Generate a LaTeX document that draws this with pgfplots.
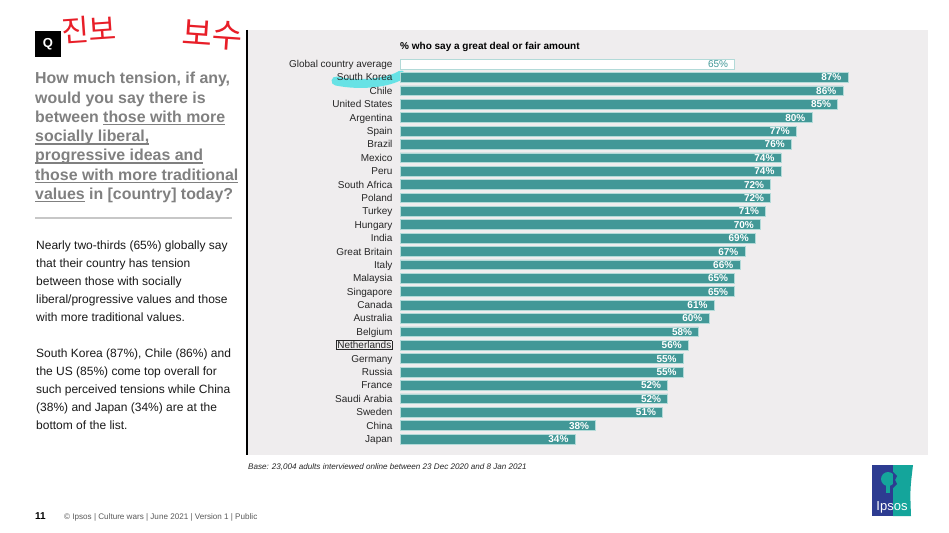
\documentclass[border=0pt]{standalone}
\usepackage{fontspec}
\setmainfont{Liberation Sans}
\newfontfamily\kr{Noto Sans CJK KR}
\usepackage{pgfplots}
\pgfplotsset{compat=1.18}
\definecolor{barteal}{RGB}{66,152,151}
\definecolor{baredge}{RGB}{178,218,216}
\definecolor{panel}{RGB}{239,237,238}
\definecolor{qgray}{RGB}{128,128,128}
\definecolor{hl}{RGB}{80,225,228}
\definecolor{hred}{RGB}{232,30,40}
\definecolor{ipsblue}{RGB}{45,60,145}
\definecolor{ipsteal}{RGB}{20,165,155}
\newcommand{\ul}[1]{\setbox0\hbox{#1}\rlap{\textcolor{qgray}{\rule[-3pt]{\wd0}{1.4pt}}}\box0\relax}
\begin{document}
\begin{tikzpicture}
\begin{scope}[x=1pt,y=-1pt]
\path[use as bounding box, fill=white] (0,0) rectangle (949,532);
\fill[panel] (248,30) rectangle (928,455);
\draw[line width=2.2pt] (247,30) -- (247,455);
% Q box
\fill[black] (35,31) rectangle (61,57);
\node[text=white, font=\bfseries\fontsize{13}{13}\selectfont, inner sep=0pt] at (48,44.5) {Q};
% handwriting
\node[anchor=base west, inner sep=0pt, font=\kr\fontsize{30}{30}\selectfont, text=hred, rotate=4] at (62,43) {진보};
\node[anchor=base west, inner sep=0pt, font=\kr\fontsize{33}{33}\selectfont, text=hred, rotate=-4] at (181,44) {보수};
% question
\begin{scope}[every node/.style={anchor=base west, inner sep=0pt, text=qgray, font=\bfseries\fontsize{15.9}{19}\selectfont}]
\node at (35,84) {How much tension, if any,};
\node at (35,103.2) {would you say there is};
\node at (35,122.4) {between \ul{those with more}};
\node at (35,141.6) {\ul{socially liberal,}};
\node at (35,160.8) {\ul{progressive ideas and}};
\node at (35,180) {\ul{those with more traditional}};
\node at (35,199.2) {\ul{values} in [country] today?};
\end{scope}
\draw[black!22, line width=1.6pt] (35,218) -- (232,218);
% body
\begin{scope}[every node/.style={anchor=base west, inner sep=0pt, text=black!90, font=\fontsize{12}{18}\selectfont}]
\node at (36,249) {Nearly two-thirds (65\%) globally say};
\node at (36,267) {that their country has tension};
\node at (36,285) {between those with socially};
\node at (36,303) {liberal/progressive values and those};
\node at (36,321) {with more traditional values.};
\node at (36,357) {South Korea (87\%), Chile (86\%) and};
\node at (36,375) {the US (85\%) come top overall for};
\node at (36,393) {such perceived tensions while China};
\node at (36,411) {(38\%) and Japan (34\%) are at the};
\node at (36,429) {bottom of the list.};
\end{scope}
% chart title
\node[anchor=base west, inner sep=0pt, font=\bfseries\fontsize{10}{11}\selectfont] at (400,50) {\% who say a great deal or fair amount};
% highlight
\draw[hl, line width=9pt, line cap=round, opacity=0.85] (336,81) .. controls (360,86) and (388,83) .. (401,75);
% base
\node[anchor=base west, inner sep=0pt, font=\itshape\fontsize{8.1}{9}\selectfont, text=black!85] at (248,469) {Base: 23,004 adults interviewed online between 23 Dec 2020 and 8 Jan 2021};
% footer
\node[anchor=base west, inner sep=0pt, font=\bfseries\fontsize{10}{10}\selectfont] at (35,519) {11};
\node[anchor=base west, inner sep=0pt, font=\fontsize{8.1}{9}\selectfont, text=black!65] at (64,519) {© Ipsos | Culture wars | June 2021 | Version 1 | Public};
% logo
\fill[ipsblue] (872,465) rectangle (893,516);
\fill[ipsteal] (893,465) -- (913,465) .. controls (910,490) .. (911,516) -- (893,516) -- cycle;
\fill[ipsteal] (888,479) circle (7);
\fill[ipsteal] (886,484) rectangle (890,493);
\fill[ipsblue] (893,472) -- (897,476) -- (895,480) -- (897,484) -- (893,488) -- cycle;
\node[anchor=base, inner sep=0pt, text=white, font=\fontsize{13}{13}\selectfont] at (892,510) {Ipsos};
\end{scope}
\begin{axis}[at={(400pt,-57.3pt)}, anchor=north west, scale only axis,
  width=515pt, height=388.4pt, xmin=0, xmax=100, ymin=-0.5, ymax=28.5,
  y dir=reverse, axis line style={draw=none}, xtick=\empty,
  ytick={0,...,28}, major tick length=0pt,
  yticklabels={Global country average, South Korea, Chile, United States, Argentina, Spain, Brazil, Mexico, Peru, South Africa, Poland, Turkey, Hungary, India, Great Britain, Italy, Malaysia, Singapore, Canada, Australia, Belgium, {\setlength{\fboxsep}{0.4pt}\setlength{\fboxrule}{0.8pt}\fbox{Netherlands}}, Germany, Russia, France, Saudi Arabia, Sweden, China, Japan},
  yticklabel style={font=\fontsize{10}{10}\selectfont, text=black!85, xshift=-4pt, anchor=east, text height=7pt, text depth=0pt},
  xbar, bar width=9.8pt,
  /pgf/number format/assume math mode=true,
  point meta=x,
  nodes near coords={\pgfmathprintnumber{\pgfplotspointmeta}\%},
  clip=false]
\addplot[bar shift=0pt, fill=white, draw=baredge, line width=0.8pt,
  nodes near coords style={anchor=east, text=barteal, font=\fontsize{10}{10}\selectfont, xshift=-3pt, text height=7pt, text depth=0pt}]
  coordinates {(65,0)};
\addplot[bar shift=0pt, fill=barteal, draw=baredge, line width=0.7pt,
  nodes near coords style={anchor=east, text=white, font=\bfseries\fontsize{10}{10}\selectfont, xshift=-3pt, text height=7pt, text depth=0pt}]
  coordinates {(87,1) (86,2) (85,3) (80,4) (77,5) (76,6) (74,7) (74,8) (72,9) (72,10) (71,11) (70,12) (69,13) (67,14) (66,15) (65,16) (65,17) (61,18) (60,19) (58,20) (56,21) (55,22) (55,23) (52,24) (52,25) (51,26) (38,27) (34,28)};
\end{axis}
\end{tikzpicture}
\end{document}
